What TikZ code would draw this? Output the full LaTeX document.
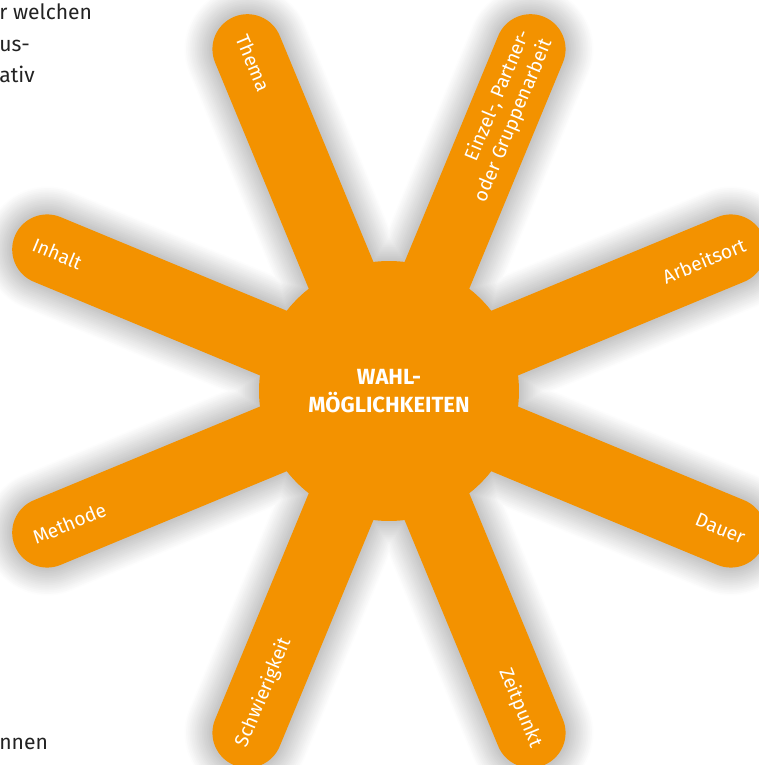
\documentclass[tikz,border=0pt]{standalone}
\usepackage{fontspec}
\setmainfont{Fira Sans}
\newfontfamily\lightfont{Fira Sans Light}
\usetikzlibrary{calc}
\definecolor{wahlorange}{HTML}{F39200}
\definecolor{bodytext}{HTML}{222222}

\begin{document}
\begin{tikzpicture}[x=0.02cm,y=0.02cm,
		arm/.style={line width=1.4cm,line cap=round},
		lbl/.style={text=white,font=\fontsize{11}{13.6}\selectfont,inner sep=0pt},
		body/.style={text=bodytext,font=\fontsize{12}{17.6}\selectfont,anchor=base west,inner sep=0pt}
		]
		\useasboundingbox (0,0) rectangle (759,765);
		\clip (0,0) rectangle (759,765);
		\coordinate (c) at (389,374);
		% arm ends
		\foreach \a [count=\i] in {112.5,67.5,22.5,-22.5,-67.5,-112.5,-157.5,157.5}
		\coordinate (e\i) at ($(c)+(\a:370)$);

		% soft shadow
		\begin{scope}[shift={(3,-3)}]
			\foreach \s in {16,...,1}{
				\pgfmathsetmacro\k{24-1.45*\s}
				\pgfmathsetmacro\lw{1.4+0.07*\s}
				\fill[black!\k] (c) circle ({130+1.75*\s});
				\foreach \j in {1,...,8}
				\draw[arm,black!\k,line width=\lw cm] (c) -- (e\j);
			}
		\end{scope}

		% star
		\foreach \j in {1,...,8}
		\draw[arm,wahlorange] (c) -- (e\j);
		\node[circle,fill=wahlorange,minimum size=5.2cm,inner sep=0pt,align=center,text=white,
		font=\bfseries\fontsize{12.5}{16.4}\selectfont] (hub) at (c) {WAHL-\\MÖGLICHKEITEN};

		% labels
		\node[lbl,rotate=-67.5,anchor=west] (thema) at ($(c)+(112.5:385)$) {Thema};
		\node[lbl,rotate=67.5,anchor=east,align=right] (sozial) at ($(c)+(67.5:385)$) {Einzel-, Partner-\\oder Gruppenarbeit};
		\node[lbl,rotate=22.5,anchor=east] (ort) at ($(c)+(22.5:385)$) {Arbeitsort};
		\node[lbl,rotate=-22.5,anchor=east] (dauer) at ($(c)+(-22.5:385)$) {Dauer};
		\node[lbl,rotate=-67.5,anchor=east] (zeit) at ($(c)+(-67.5:385)$) {Zeitpunkt};
		\node[lbl,rotate=67.5,anchor=west] (schwer) at ($(c)+(-112.5:385)$) {Schwierigkeit};
		\node[lbl,rotate=22.5,anchor=west] (methode) at ($(c)+(-157.5:385)$) {Methode};
		\node[lbl,rotate=-22.5,anchor=west] (inhalt) at ($(c)+(157.5:385)$) {Inhalt};

		% text cut off at the page edge
		\node[body] (b1) at (-1,745) {r welchen};
		\node[body] (b2) at (-1,713) {us-};
		\node[body] (b3) at (-1,682) {ativ};
		\node[body] (b4) at (-1,15) {nnen};
	\end{tikzpicture}
\end{document}
